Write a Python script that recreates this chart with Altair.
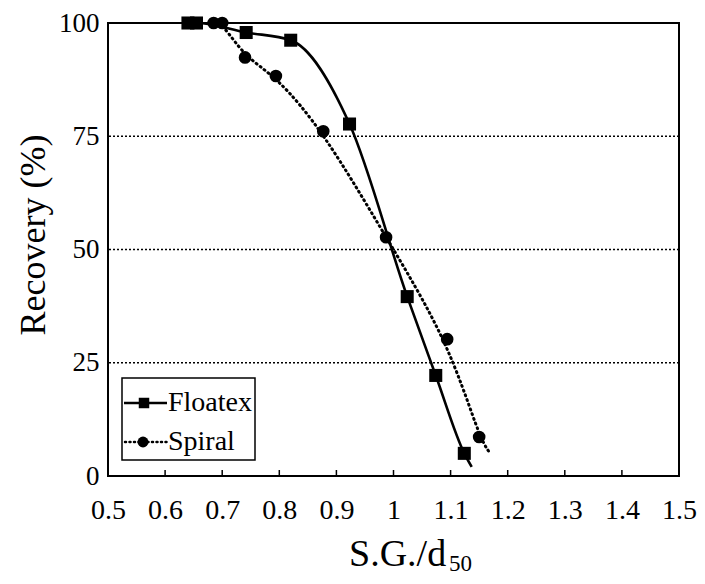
import altair as alt
import pandas as pd

# ---- data ----
floatex_x = [0.640, 0.655, 0.742, 0.820, 0.923, 1.024, 1.074, 1.124]
floatex_y = [100.0, 100.0, 97.9, 96.2, 77.7, 39.6, 22.2, 5.0]
floatex_line_end_x = [1.137]
floatex_line_end_y = [2.0]

spiral_x = [0.685, 0.700, 0.740, 0.794, 0.877, 0.987, 1.094, 1.150]
spiral_y = [100.0, 100.0, 92.4, 88.3, 76.1, 52.7, 30.2, 8.6]
spiral_line_end_x = [1.168]
spiral_line_end_y = [5.2]

x_tick_values = [0.5, 0.6, 0.7, 0.8, 0.9, 1.0, 1.1, 1.2, 1.3, 1.4, 1.5]
x_inner_ticks = [0.6, 0.7, 0.8, 0.9, 1.0, 1.1, 1.2, 1.3, 1.4]
y_tick_values = [0, 25, 50, 75, 100]
grid_values = [25, 50, 75]

FONT = "Liberation Serif, Times New Roman, serif"
W, H = 571, 453
TOP = 15

xs = alt.Scale(domain=[0.5, 1.5], nice=False, zero=False)
ys = alt.Scale(domain=[0, 100], nice=False, zero=True)
XAX = alt.Axis(values=x_tick_values, format="~g", title=None, labelFont=FONT,
               labelFontSize=28, labelColor="black", labelPadding=20, ticks=False,
               domain=False, grid=False, labelFlush=False)
YAX = alt.Axis(values=y_tick_values, title=None, labelFont=FONT, labelFontSize=27,
               labelColor="black", labelPadding=9, ticks=False, domain=False, grid=False)

pts_f = pd.DataFrame({"x": floatex_x, "y": floatex_y})
pts_s = pd.DataFrame({"x": spiral_x, "y": spiral_y})
line_f = pd.DataFrame({"x": floatex_x + floatex_line_end_x, "y": floatex_y + floatex_line_end_y})
line_s = pd.DataFrame({"x": spiral_x + spiral_line_end_x, "y": spiral_y + spiral_line_end_y})

grid = alt.Chart(pd.DataFrame({"y": grid_values})).mark_rule(
    color="black", strokeWidth=1.6, strokeDash=[2, 2]
).encode(y=alt.Y("y:Q", scale=ys, axis=YAX))

ticks = alt.Chart(pd.DataFrame({"x": x_inner_ticks})).mark_rule(color="black", strokeWidth=1.5).encode(
    x=alt.X("x:Q", scale=xs, axis=XAX),
    y=alt.value(H),
    y2=alt.value(H - 6),
)

lf = alt.Chart(line_f).mark_line(color="black", strokeWidth=2.6, interpolate="monotone").encode(
    x=alt.X("x:Q", scale=xs, axis=XAX), y=alt.Y("y:Q", scale=ys, axis=YAX), order="x:Q"
)
ls = alt.Chart(line_s).mark_line(color="black", strokeWidth=3, strokeDash=[1, 4], strokeCap="round",
                                 interpolate="basis").encode(
    x=alt.X("x:Q", scale=xs, axis=XAX), y=alt.Y("y:Q", scale=ys, axis=YAX), order="x:Q"
)
pf = alt.Chart(pts_f).mark_point(shape="square", filled=True, color="black", size=170, opacity=1).encode(
    x=alt.X("x:Q", scale=xs, axis=XAX), y=alt.Y("y:Q", scale=ys, axis=YAX)
)
ps = alt.Chart(pts_s).mark_point(shape="circle", filled=True, color="black", size=160, opacity=1).encode(
    x=alt.X("x:Q", scale=xs, axis=XAX), y=alt.Y("y:Q", scale=ys, axis=YAX)
)

one = pd.DataFrame({"a": [0]})
dy = 21 - (8 + TOP)  # shift of fixed-position items relative to previous layout

# axis titles
ytitle = alt.Chart(one).mark_text(text="Recovery (%)", font=FONT, fontSize=36, angle=270,
                                  align="center", baseline="middle", color="black").encode(
    x=alt.value(-74), y=alt.value(214 + dy))
xtitle = alt.Chart(one).mark_text(text="S.G./d", font=FONT, fontSize=38, align="left",
                                  baseline="alphabetic", color="black").encode(
    x=alt.value(241), y=alt.value(545 + dy))
xsub = alt.Chart(one).mark_text(text="50", font=FONT, fontSize=23, align="left",
                                baseline="alphabetic", color="black").encode(
    x=alt.value(341), y=alt.value(550 + dy))

# legend
leg_box = alt.Chart(one).mark_rect(fill="white", stroke="black", strokeWidth=1.5).encode(
    x=alt.value(14), x2=alt.value(147), y=alt.value(357 + dy), y2=alt.value(439 + dy))
leg_l1 = alt.Chart(one).mark_rule(color="black", strokeWidth=2.5).encode(
    x=alt.value(16), x2=alt.value(59), y=alt.value(382 + dy))
leg_l2 = alt.Chart(one).mark_rule(color="black", strokeWidth=2.5, strokeDash=[1, 3.5], strokeCap="round").encode(
    x=alt.value(17), x2=alt.value(59), y=alt.value(421 + dy))
leg_p1 = alt.Chart(one).mark_point(shape="square", filled=True, color="black", size=110, opacity=1).encode(
    x=alt.value(36), y=alt.value(382 + dy))
leg_p2 = alt.Chart(one).mark_point(shape="circle", filled=True, color="black", size=120, opacity=1).encode(
    x=alt.value(35), y=alt.value(421 + dy))
leg_t1 = alt.Chart(one).mark_text(text="Floatex", font=FONT, fontSize=28, align="left",
                                  baseline="middle", color="black").encode(x=alt.value(60), y=alt.value(382 + dy))
leg_t2 = alt.Chart(one).mark_text(text="Spiral", font=FONT, fontSize=28, align="left",
                                  baseline="middle", color="black").encode(x=alt.value(60), y=alt.value(421 + dy))

chart = alt.layer(
    grid, ticks, lf, ls, pf, ps, ytitle, xtitle, xsub,
    leg_box, leg_l1, leg_l2, leg_p1, leg_p2, leg_t1, leg_t2
).properties(
    width=W, height=H,
    autosize=alt.AutoSizeParams(type="none"),
    padding={"left": 100, "top": TOP, "right": 18, "bottom": 100},
    background="white",
).configure_view(stroke="black", strokeWidth=2)

chart.save("out.html", embed_options={"renderer": "svg", "actions": False})
